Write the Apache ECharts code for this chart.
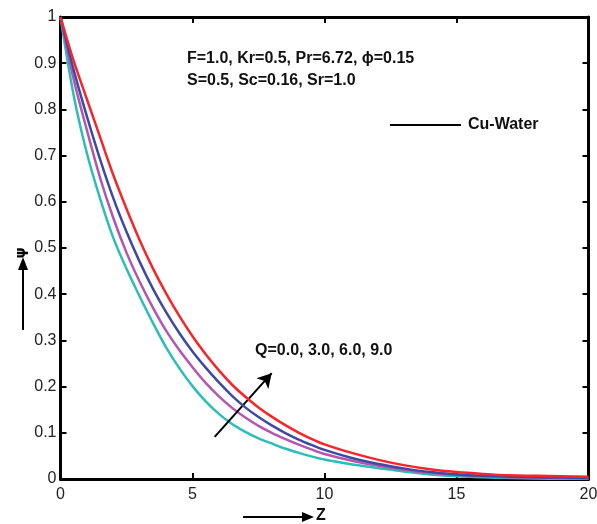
<!DOCTYPE html>
<html>
<head>
<meta charset="utf-8">
<script src="https://cdn.jsdelivr.net/npm/echarts@6/dist/echarts.min.js"></script>
<style>html,body{margin:0;padding:0;background:#fff;overflow:hidden}#c{width:597px;height:524px}</style>
</head>
<body>
<div id="c"></div>
<script>
var zValues = [0,0.5,1,1.5,2,2.5,3,3.5,4,4.5,5,5.5,6,6.5,7,7.5,8,8.5,9,9.5,10,11,12,13,14,15,16,17,18,19,20];
var psiQ0 = [1,0.83,0.705,0.607,0.522,0.455,0.395,0.338,0.285,0.24,0.201,0.168,0.141,0.119,0.102,0.088,0.077,0.066,0.057,0.049,0.042,0.032,0.024,0.016,0.01,0.006,0.004,0.002,0.001,0.0005,0];
var psiQ3 = [1,0.865,0.755,0.652,0.565,0.49,0.427,0.371,0.321,0.279,0.242,0.208,0.179,0.154,0.133,0.115,0.1,0.087,0.075,0.064,0.054,0.04,0.029,0.02,0.013,0.009,0.006,0.004,0.003,0.002,0.001];
var psiQ6 = [1,0.885,0.785,0.692,0.608,0.535,0.47,0.412,0.361,0.316,0.276,0.241,0.209,0.18,0.155,0.134,0.116,0.1,0.086,0.074,0.063,0.046,0.033,0.023,0.015,0.01,0.007,0.005,0.004,0.003,0.002];
var psiQ9 = [1,0.905,0.822,0.74,0.658,0.585,0.517,0.456,0.402,0.353,0.309,0.27,0.235,0.204,0.178,0.155,0.135,0.117,0.101,0.087,0.075,0.057,0.042,0.03,0.021,0.015,0.011,0.008,0.007,0.006,0.005];
var seriesNames = ['Q=0.0','Q=3.0','Q=6.0','Q=9.0'];
var seriesColors = ['#2cbdb8','#b455b0','#3d4aa3','#f5262a'];
var xTicks = [0,5,10,15,20];
var yTicks = [0,0.1,0.2,0.3,0.4,0.5,0.6,0.7,0.8,0.9,1];
var arrowStart = [5.84, 0.091];
var arrowEnd = [8.0, 0.229];

function pairs(arr){ return zValues.map(function(z,i){ return [z, arr[i]]; }); }
var allPsi = [psiQ0, psiQ3, psiQ6, psiQ9];

var series = allPsi.map(function(arr, i){
  return {
    name: seriesNames[i], type: 'line', data: pairs(arr), showSymbol: false,
    smooth: 0.3, lineStyle: {width: 2.5, color: seriesColors[i]}, itemStyle:{color: seriesColors[i]},
    z: 3 + i, silent: true
  };
});
series.push({
  name: 'Cu-Water', type: 'line', data: [], itemStyle: {color: '#000'}, lineStyle: {color: '#000'},
  markLine: {
    silent: true, symbol: ['none','arrow'], symbolSize: [12, 14],
    label: {show: false},
    lineStyle: {color: '#000', width: 2, type: 'solid'},
    data: [[{coord: arrowStart}, {coord: arrowEnd}]]
  }
});

var bold = 'Liberation Sans, Arial, sans-serif';
var chart = echarts.init(document.getElementById('c'), null, {renderer: 'canvas', width: 597, height: 524});
chart.setOption({
  animation: false,
  backgroundColor: '#fff',
  grid: {left: 60.5, right: 8.5, top: 17, bottom: 45, containLabel: false, outerBoundsMode: 'none'},
  legend: {
    data: [{name: 'Cu-Water', icon: 'rect'}], left: 385, top: 112,
    itemWidth: 71, itemHeight: 2, itemGap: 0,
    textStyle: {fontFamily: bold, fontWeight: 'bold', fontSize: 16, color: '#111', padding: [0,0,0,2]}
  },
  xAxis: [{
    type: 'value', min: 0, max: 20, interval: 5, position: 'bottom',
    axisLine: {show: true, onZero: false, lineStyle: {color: '#000', width: 3}},
    axisTick: {show: true, inside: true, length: 6, lineStyle: {color: '#000', width: 2}},
    axisLabel: {color: '#222', fontSize: 16, fontFamily: bold, margin: 8},
    splitLine: {show: false}
  }, {
    type: 'value', min: 0, max: 20, interval: 5, position: 'top',
    axisLine: {show: true, onZero: false, lineStyle: {color: '#000', width: 3}},
    axisTick: {show: true, inside: true, length: 6, lineStyle: {color: '#000', width: 2}},
    axisLabel: {show: false}, splitLine: {show: false}
  }],
  yAxis: [{
    type: 'value', min: 0, max: 1, interval: 0.1, position: 'left',
    axisLine: {show: true, onZero: false, lineStyle: {color: '#000', width: 3}},
    axisTick: {show: true, inside: true, length: 6, lineStyle: {color: '#000', width: 2}},
    axisLabel: {color: '#222', fontSize: 16, fontFamily: bold, margin: 4,
      formatter: function(v){ return (v === 0 || v === 1) ? String(v) : v.toFixed(1); }},
    splitLine: {show: false}
  }, {
    type: 'value', min: 0, max: 1, interval: 0.1, position: 'right',
    axisLine: {show: true, onZero: false, lineStyle: {color: '#000', width: 3}},
    axisTick: {show: true, inside: true, length: 6, lineStyle: {color: '#000', width: 2}},
    axisLabel: {show: false}, splitLine: {show: false}
  }],
  graphic: [
    {type: 'text', left: 187, top: 51, style: {text: 'F=1.0, Kr=0.5, Pr=6.72, ϕ=0.15', font: 'bold 16px Liberation Sans, Arial, sans-serif', fill: '#111'}},
    {type: 'text', left: 187, top: 73, style: {text: 'S=0.5, Sc=0.16, Sr=1.0', font: 'bold 16px Liberation Sans, Arial, sans-serif', fill: '#111'}},
    {type: 'text', left: 255, top: 343, style: {text: 'Q=0.0, 3.0, 6.0, 9.0', font: 'bold 16px Liberation Sans, Arial, sans-serif', fill: '#111'}},
    {type: 'text', left: 316, top: 508, style: {text: 'Z', font: 'bold 16px Liberation Sans, Arial, sans-serif', fill: '#111'}},
    {type: 'text', x: 21, y: 253, rotation: Math.PI / 2, style: {text: 'ψ', font: 'bold 14px DejaVu Sans, sans-serif', fill: '#000', textAlign: 'center', textVerticalAlign: 'middle'}},
    {type: 'line', shape: {x1: 243, y1: 517, x2: 306, y2: 517}, style: {stroke: '#000', lineWidth: 2}},
    {type: 'polygon', shape: {points: [[314,517],[302,512],[302,522]]}, style: {fill: '#000'}},
    {type: 'line', shape: {x1: 23, y1: 330, x2: 23, y2: 266}, style: {stroke: '#000', lineWidth: 2}},
    {type: 'polygon', shape: {points: [[23,257],[18,270],[28,270]]}, style: {fill: '#000'}}
  ],
  series: series
});
</script>
</body>
</html>
